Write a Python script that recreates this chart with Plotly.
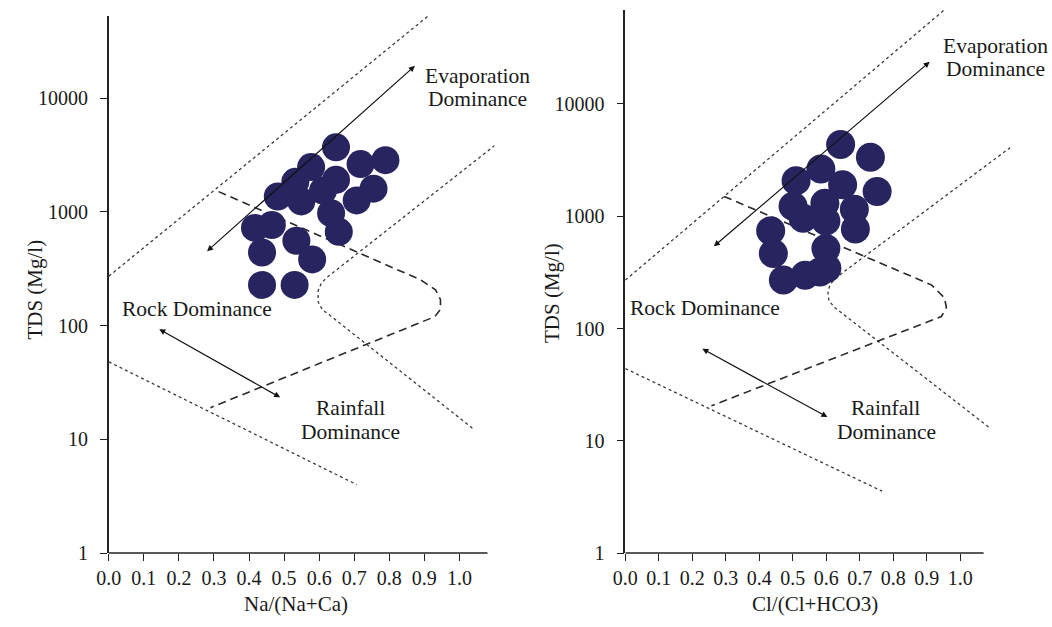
import numpy as np
import plotly.graph_objects as go

# ---------------- data: left panel (Na/(Na+Ca)) ----------------
na_ratio = [0.648, 0.718, 0.789, 0.577, 0.532, 0.648, 0.482, 0.549, 0.611, 0.755,
            0.707, 0.634, 0.656, 0.417, 0.465, 0.437, 0.535, 0.580, 0.437, 0.530]
tds_left = [3690, 2630, 2845, 2476, 1837, 1913, 1364, 1236, 1537, 1600,
            1259, 973, 667, 722, 766, 439, 557, 382, 228, 228]

# ---------------- data: right panel (Cl/(Cl+HCO3)) ----------------
cl_ratio = [0.643, 0.732, 0.584, 0.510, 0.649, 0.752, 0.501, 0.596, 0.684, 0.531,
            0.599, 0.687, 0.434, 0.442, 0.599, 0.602, 0.472, 0.537, 0.581]
tds_right = [4360, 3357, 2636, 2070, 1910, 1660, 1225, 1303, 1154, 962,
             906, 771, 741, 466, 515, 344, 271, 299, 318]

# ---------------- Gibbs boundary lines ----------------
L_upper_x = [0.0, 0.915]
L_upper_y = [272, 54000]
L_lower_x = [0.0, 0.707]
L_lower_y = [48, 4.0]
L_right_x = [1.101, 0.620, 0.606, 0.597, 0.597, 0.609, 0.628, 1.042]
L_right_y = [3837, 262, 235, 202, 162, 138, 125, 12.2]
L_dash_x = [0.313, 0.890, 0.932, 0.946, 0.946, 0.930, 0.290]
L_dash_y = [1506, 252, 206, 169, 139, 120, 19]

R_upper_x = [0.0, 0.953]
R_upper_y = [270, 68900]
R_lower_x = [0.0, 0.767]
R_lower_y = [44, 3.56]
R_right_x = [1.150, 0.628, 0.611, 0.605, 0.608, 0.625, 1.086]
R_right_y = [4100, 282, 245, 208, 177, 154, 13.2]
R_dash_x = [0.295, 0.914, 0.953, 0.959, 0.944, 0.257]
R_dash_y = [1500, 245, 188, 154, 128, 20.5]

# arrows: (head x, head y, tail x, tail y)
L_evap_arrow = [0.873, 19200, 0.276, 439]
L_rock_arrow = [0.144, 93, 0.493, 23]
R_evap_arrow = [0.909, 23700, 0.260, 526]
R_rock_arrow = [0.230, 66, 0.608, 16]

x_ticks = [0.0, 0.1, 0.2, 0.3, 0.4, 0.5, 0.6, 0.7, 0.8, 0.9, 1.0]
y_ticks = [1, 10, 100, 1000, 10000]
y_ticktext = ["1", "10", "100", "1000", "10000"]

FONT = "Liberation Serif"
MARK = "#27245f"
W, H = 1052, 627

fig = go.Figure()

def add_panel(xa, ya, px, py, ux, uy, lx, ly, rx, ry, dx, dy, msize):
    xr, yr = xa.replace("axis", ""), ya.replace("axis", "")
    dot = dict(color="#3a3a3a", width=1.3, dash="dot")
    for xs, ys in [(ux, uy), (lx, ly), (rx, ry)]:
        fig.add_trace(go.Scatter(x=xs, y=ys, mode="lines", line=dot,
                                 xaxis=xr, yaxis=yr, showlegend=False, hoverinfo="skip"))
    fig.add_trace(go.Scatter(x=dx, y=dy, mode="lines",
                             line=dict(color="#2a2a2a", width=1.6, dash="8px,5px"),
                             xaxis=xr, yaxis=yr, showlegend=False, hoverinfo="skip"))
    fig.add_trace(go.Scatter(x=px, y=py, mode="markers",
                             marker=dict(size=msize, color=MARK, line=dict(width=0)),
                             xaxis=xr, yaxis=yr, showlegend=False, cliponaxis=False))

add_panel("xaxis", "yaxis", na_ratio, tds_left, L_upper_x, L_upper_y, L_lower_x, L_lower_y,
          L_right_x, L_right_y, L_dash_x, L_dash_y, 28)
add_panel("xaxis2", "yaxis2", cl_ratio, tds_right, R_upper_x, R_upper_y, R_lower_x, R_lower_y,
          R_right_x, R_right_y, R_dash_x, R_dash_y, 29)

annotations = []

def arrow(a, xr, yr):
    annotations.append(dict(x=a[0], y=np.log10(a[1]), ax=a[2], ay=np.log10(a[3]),
                            xref=xr, yref=yr, axref=xr, ayref=yr, text="",
                            showarrow=True, arrowhead=2, startarrowhead=2,
                            arrowside="end+start", arrowsize=1, startarrowsize=1,
                            arrowwidth=1.2, arrowcolor="#111111", standoff=0, startstandoff=0))

arrow(L_evap_arrow, "x", "y")
arrow(L_rock_arrow, "x", "y")
arrow(R_evap_arrow, "x2", "y2")
arrow(R_rock_arrow, "x2", "y2")

def label(text, x, ylog, xr, yr):
    annotations.append(dict(x=x, y=ylog, xref=xr, yref=yr, text=text, showarrow=False,
                            xanchor="center", yanchor="middle",
                            font=dict(family=FONT, size=21.5, color="#1a1a1a")))

label("Evaporation", 1.051, 4.197, "x", "y")
label("Dominance", 1.051, 3.990, "x", "y")
label("Rock Dominance", 0.251, 2.142, "x", "y")
label("Rainfall", 0.690, 1.278, "x", "y")
label("Dominance", 0.690, 1.062, "x", "y")

label("Evaporation", 1.106, 4.514, "x2", "y2")
label("Dominance", 1.106, 4.313, "x2", "y2")
label("Rock Dominance", 0.239, 2.187, "x2", "y2")
label("Rainfall", 0.776, 1.295, "x2", "y2")
label("Dominance", 0.779, 1.076, "x2", "y2")

# axis titles
def title(text, xp, yp, angle=0):
    annotations.append(dict(x=xp / W, y=1 - yp / H, xref="paper", yref="paper", text=text,
                            showarrow=False, textangle=angle, xanchor="center", yanchor="middle",
                            font=dict(family=FONT, size=21, color="#1a1a1a")))

title("TDS (Mg/l)", 22, 295, -90)
title("TDS (Mg/l)", 546, 298, -90)
title("Na/(Na+Ca)", 287, 615)
title("Cl/(Cl+HCO3)", 812, 615)

# x-axis baselines (drawn only up to the end of the axis, as in the reference)
shapes = [
    dict(type="line", xref="x", yref="paper", x0=0, x1=1.08, y0=64 / H, y1=64 / H,
         line=dict(color="#222222", width=1.5)),
    dict(type="line", xref="x2", yref="paper", x0=0, x1=1.07, y0=64 / H, y1=64 / H,
         line=dict(color="#222222", width=1.5)),
]

xcommon = dict(range=[0, 1.1], tickvals=x_ticks, tickformat=".1f", ticks="outside", ticklen=7,
               tickwidth=1.3, tickcolor="#222222", showline=False, showgrid=False, zeroline=False,
               tickfont=dict(family=FONT, size=20, color="#1a1a1a"))
ycommon = dict(type="log", tickvals=y_ticks, ticktext=y_ticktext, ticks="outside", ticklen=7,
               tickwidth=1.3, tickcolor="#222222", showline=True, linecolor="#222222", linewidth=1.5,
               showgrid=False, zeroline=False, ticklabelstandoff=8,
               tickfont=dict(family=FONT, size=20, color="#1a1a1a"))

fig.update_layout(
    width=W, height=H, margin=dict(l=0, r=0, t=0, b=0),
    paper_bgcolor="white", plot_bgcolor="white",
    xaxis=dict(xcommon, domain=[97 / W, 487.5 / W], range=[0, 1.1], anchor="y"),
    yaxis=dict(ycommon, domain=[64 / H, (H - 15.9) / H], range=[0, 4.725], anchor="x"),
    xaxis2=dict(xcommon, domain=[620 / W, 1009.85 / W], range=[0, 1.15], anchor="y2"),
    yaxis2=dict(ycommon, domain=[64 / H, (H - 9.8) / H], range=[0, 4.84], anchor="x2"),
    annotations=annotations,
    shapes=shapes,
)

fig.write_html("out.html")
